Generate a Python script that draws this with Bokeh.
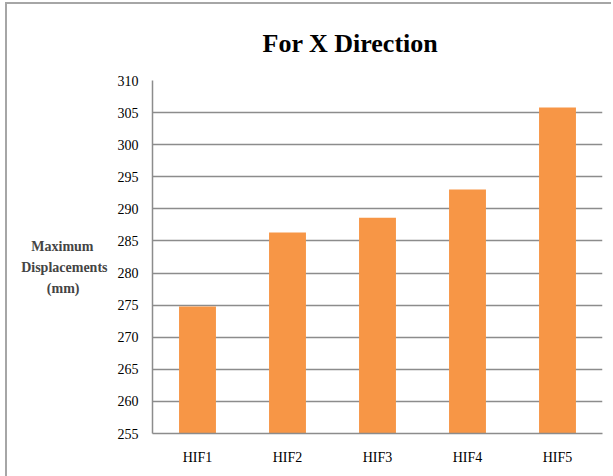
from bokeh.plotting import figure
from bokeh.models import ColumnDataSource, Title, FixedTicker
from bokeh.layouts import column
from bokeh.embed import file_html
from bokeh.resources import INLINE

categories = ["HIF1", "HIF2", "HIF3", "HIF4", "HIF5"]
displacements = [274.8, 286.3, 288.6, 293.0, 305.8]
y_ticks = [255, 260, 265, 270, 275, 280, 285, 290, 295, 300, 305, 310]

source = ColumnDataSource(data=dict(cat=categories, val=displacements))

p = figure(x_range=categories, y_range=(255, 310), width=604, height=472,
           output_backend="svg", toolbar_location=None,
           min_border_left=145, min_border_right=9, min_border_top=72, min_border_bottom=43)
p.vbar(x="cat", top="val", bottom=255, width=0.41, source=source,
       fill_color="#f79646", line_color=None)

FONT = "Liberation Serif"
GRID = "#8c8c8c"
p.outline_line_color = None
p.border_fill_color = "white"
p.background_fill_color = "white"

p.xgrid.grid_line_color = None
p.ygrid.grid_line_color = GRID
p.ygrid.grid_line_width = 1.5
p.yaxis.ticker = FixedTicker(ticks=y_ticks)

for ax in (p.xaxis, p.yaxis):
    ax.axis_line_color = GRID
    ax.axis_line_width = 1.5
    ax.major_tick_line_color = None
    ax.minor_tick_line_color = None
    ax.major_label_text_font = FONT
    ax.major_label_text_font_size = "14px"
    ax.major_label_text_color = "black"
p.yaxis.major_label_standoff = 8
p.xaxis.major_label_standoff = 10

NB = "\u00a0"
p.yaxis.axis_label = "\nMaximum" + NB * 4 + "\nDisplacements\n(mm)" + NB * 8
p.yaxis.axis_label_orientation = "horizontal"
p.yaxis.axis_label_text_font = FONT
p.yaxis.axis_label_text_font_style = "bold"
p.yaxis.axis_label_text_font_size = "14px"
p.yaxis.axis_label_text_line_height = 1.4
p.yaxis.axis_label_standoff = 7

p.add_layout(Title(text="For X Direction", align="left", offset=110,
                   text_font=FONT, text_font_style="bold", text_font_size="26px",
                   text_color="black", standoff=45), "above")

layout = column(p, styles={"border-left": "2px solid #a6a6a6",
                           "border-top": "2px solid #a6a6a6",
                           "margin-left": "5px", "margin-top": "2px"})

open("out.html", "w").write(file_html(layout, INLINE))
